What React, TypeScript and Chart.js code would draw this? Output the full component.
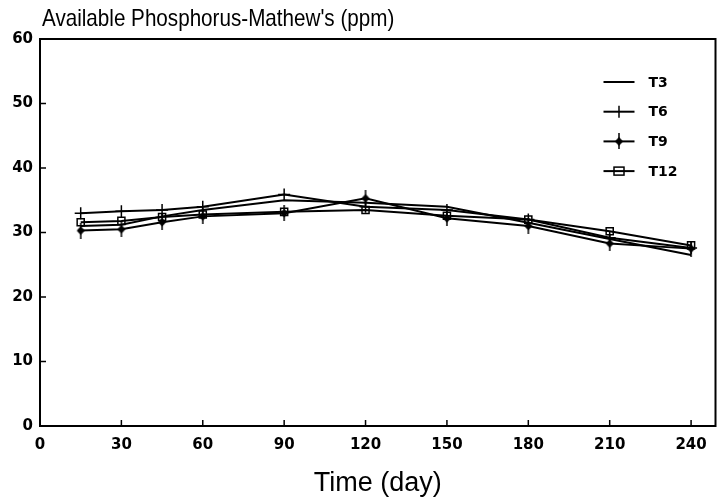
import React, { useEffect, useRef } from "react";
import { Chart, registerables } from "chart.js";

Chart.register(...registerables);

// ---- data ----
const days = [15, 30, 45, 60, 90, 120, 150, 180, 210, 240];
const xTicks = [0, 30, 60, 90, 120, 150, 180, 210, 240];
const yTicks = [0, 10, 20, 30, 40, 50, 60];
const seriesNames = ["T3", "T6", "T9", "T12"];
const t3 = [31.0, 31.2, 32.5, 33.5, 35.0, 34.6, 34.0, 31.5, 29.0, 26.5];
const t6 = [33.0, 33.3, 33.5, 34.0, 35.9, 34.0, 33.5, 32.0, 29.2, 27.6];
const t9 = [30.3, 30.5, 31.6, 32.5, 33.0, 35.3, 32.2, 31.0, 28.3, 27.5];
const t12 = [31.6, 31.8, 32.4, 32.8, 33.2, 33.5, 32.6, 32.0, 30.2, 28.0];
const titleText = "Available Phosphorus-Mathew's (ppm)";
const xTitle = "Time (day)";

function makeT9Marker(): HTMLCanvasElement {
  const c = document.createElement("canvas");
  c.width = 10;
  c.height = 16;
  const g = c.getContext("2d")!;
  g.strokeStyle = "#000";
  g.lineWidth = 1.5;
  g.beginPath();
  g.moveTo(5, 0);
  g.lineTo(5, 16);
  g.stroke();
  g.fillStyle = "#000";
  g.beginPath();
  g.moveTo(5, 3.5);
  g.lineTo(9, 8);
  g.lineTo(5, 12.5);
  g.lineTo(1, 8);
  g.closePath();
  g.fill();
  return c;
}

export default function App() {
  const ref = useRef<HTMLCanvasElement | null>(null);

  useEffect(() => {
    if (!ref.current) return;
    const t9Marker = makeT9Marker();
    const values = [t3, t6, t9, t12];
    const styles: any[] = [
      { pointStyle: "line", pointRadius: 0 },
      { pointStyle: "cross", pointRadius: 6 },
      { pointStyle: t9Marker, pointRadius: 6 },
      { pointStyle: "rect", pointRadius: 5 },
    ];

    const framePlugin = {
      id: "frame",
      afterDraw(chart: any) {
        const { ctx, chartArea: a, scales } = chart;
        ctx.save();
        ctx.strokeStyle = "#000";
        ctx.lineWidth = 2;
        ctx.strokeRect(a.left, a.top, a.right - a.left, a.bottom - a.top);
        ctx.lineWidth = 1.5;
        ctx.beginPath();
        xTicks.forEach((v) => {
          if (v === 0) return;
          const x = scales.x.getPixelForValue(v);
          ctx.moveTo(x, a.bottom);
          ctx.lineTo(x, a.bottom - 6);
        });
        yTicks.forEach((v) => {
          if (v === 0 || v === 60) return;
          const y = scales.y.getPixelForValue(v);
          ctx.moveTo(a.left, y);
          ctx.lineTo(a.left + 6, y);
        });
        ctx.stroke();

        // title (slightly condensed like the reference's typeface)
        ctx.fillStyle = "#000";
        ctx.textAlign = "left";
        ctx.textBaseline = "alphabetic";
        ctx.font = '24px "Liberation Sans", Arial, sans-serif';
        ctx.save();
        ctx.translate(a.left + 2, a.top - 13);
        ctx.scale(0.86, 1);
        ctx.fillText(titleText, 0, 0);
        ctx.restore();

        // legend
        const x0 = a.right - 112;
        const x1 = a.right - 81;
        const xm = (x0 + x1) / 2;
        seriesNames.forEach((name, i) => {
          const y = a.top + 43 + i * 29.7;
          ctx.lineWidth = 2;
          ctx.strokeStyle = "#000";
          ctx.beginPath();
          ctx.moveTo(x0, y);
          ctx.lineTo(x1, y);
          ctx.stroke();
          if (i === 1) {
            ctx.lineWidth = 1.5;
            ctx.beginPath();
            ctx.moveTo(xm, y - 6);
            ctx.lineTo(xm, y + 6);
            ctx.stroke();
          } else if (i === 2) {
            ctx.drawImage(t9Marker, xm - 5, y - 8);
          } else if (i === 3) {
            ctx.lineWidth = 1.5;
            ctx.strokeRect(xm - 5, y - 4, 10, 8);
          }
          ctx.font = 'bold 14px "DejaVu Sans", sans-serif';
          ctx.textBaseline = "middle";
          ctx.fillText(name, a.right - 67, y + 1);
        });
        ctx.restore();
      },
    };

    const chart = new Chart(ref.current, {
      type: "line",
      data: {
        datasets: seriesNames.map((name, i) => ({
          label: name,
          data: days.map((d, j) => ({ x: d, y: values[i][j] })),
          borderColor: "#000",
          backgroundColor: "rgba(0,0,0,0)",
          borderWidth: 2,
          pointBorderColor: "#000",
          pointBorderWidth: 1.5,
          pointHoverRadius: 0,
          tension: 0,
          ...styles[i],
        })),
      },
      options: {
        animation: false,
        responsive: false,
        events: [],
        layout: { padding: { top: 39, left: 0, right: 2, bottom: 0 } },
        plugins: {
          legend: { display: false },
          title: { display: false },
          tooltip: { enabled: false },
        },
        scales: {
          x: {
            type: "linear",
            min: 0,
            max: 249,
            afterBuildTicks: (s: any) => {
              s.ticks = xTicks.map((v) => ({ value: v }));
            },
            afterFit: (s: any) => {
              s.height = 74;
            },
            grid: { display: true, drawOnChartArea: false, drawTicks: false },
            border: { display: false },
            ticks: {
              padding: 10,
              color: "#000",
              maxRotation: 0,
              autoSkip: false,
              font: { family: '"DejaVu Sans", sans-serif', size: 15, weight: "bold" },
            },
            title: {
              display: true,
              text: xTitle,
              color: "#000",
              padding: { top: 0, bottom: 0 },
              font: { family: '"Liberation Sans", Arial, sans-serif', size: 27 },
            },
          },
          y: {
            min: 0,
            max: 60,
            afterBuildTicks: (s: any) => {
              s.ticks = yTicks.map((v) => ({ value: v }));
            },
            afterFit: (s: any) => {
              s.width = 40;
            },
            grid: { display: true, drawOnChartArea: false, drawTicks: false },
            border: { display: false },
            ticks: {
              padding: 7,
              color: "#000",
              font: { family: '"DejaVu Sans", sans-serif', size: 15, weight: "bold" },
            },
          },
        },
      },
      plugins: [framePlugin],
    } as any);

    return () => chart.destroy();
  }, []);

  return (
    <div style={{ position: "fixed", left: 0, top: 0, width: 723, height: 500, background: "#fff" }}>
      <canvas ref={ref} width={723} height={500} style={{ width: 723, height: 500, display: "block" }} />
    </div>
  );
}
